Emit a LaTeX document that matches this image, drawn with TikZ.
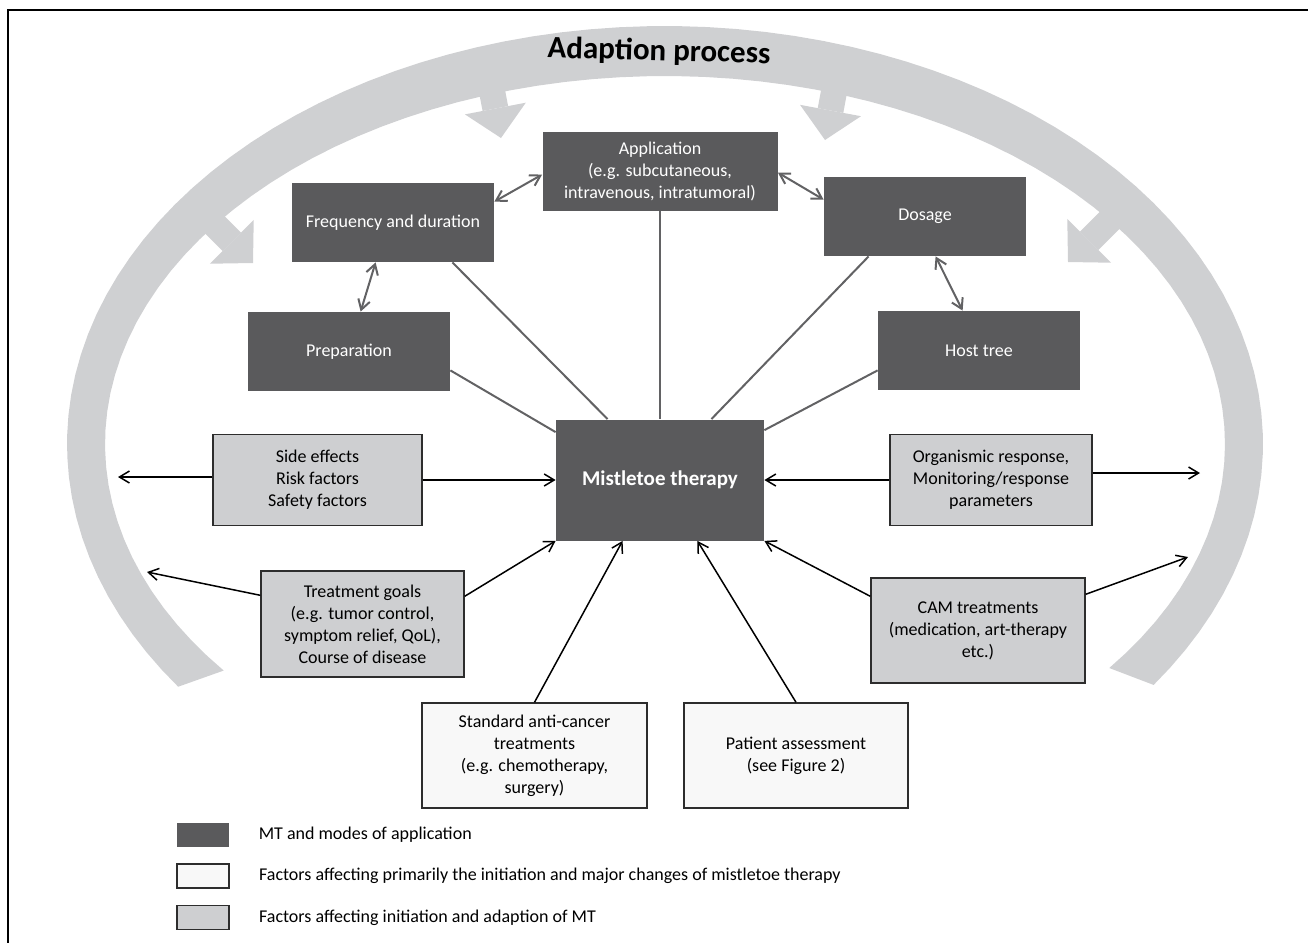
\documentclass[tikz,border=0pt]{standalone}
\usepackage{fontspec}
\setmainfont{Carlito}
\usepackage{tikz,xcolor}
\usetikzlibrary{calc,positioning,arrows.meta}
\definecolor{darkfill}{RGB}{90,90,92}
\definecolor{boxgray}{RGB}{206,207,209}
\definecolor{boxwhite}{RGB}{248,248,248}
\definecolor{bandgray}{RGB}{207,208,210}
\definecolor{linegray}{RGB}{98,98,100}
\definecolor{edgecol}{RGB}{45,45,45}
\newcommand{\diagfont}{\fontsize{9pt}{11pt}\selectfont}
\newcommand{\mtfont}{\fontsize{10.5pt}{12.5pt}\selectfont\bfseries}
\newcommand{\titlefont}{\fontsize{15.5pt}{18pt}\selectfont\bfseries}
\tikzset{
    darknode/.style={ % modes of application
        on grid,
        fill=darkfill,
        text=white,
        align=center,
        font=\diagfont,
        minimum width=101pt,
        minimum height=39.5pt
    },
    graynode/.style={ % initiation and adaption
        on grid,
        draw=edgecol,
        line width=0.7pt,
        fill=boxgray,
        align=center,
        font=\diagfont
    },
    whitenode/.style={ % initiation and major changes
        graynode,
        fill=boxwhite
    },
    keynode/.style={
        minimum width=26pt,
        minimum height=12pt,
        inner sep=0pt
    },
    keytext/.style={
        font=\diagfont,
        inner sep=0pt
    },
    greyline/.style={linegray, line width=1pt},
    pair/.style={greyline, <->},
    blackarrow/.style={black, line width=0.75pt, ->},
    bigarrow/.style={
        bandgray,
        line width=13pt,
        -{Triangle[length=15pt,width=31pt,line width=0pt]}
    }
}

\begin{document}
\begin{tikzpicture}[x=0.5pt,y=-0.5pt,>={Straight Barb[length=5pt,width=6pt]}]
        \useasboundingbox (0,0) rectangle (1308,943);
        \draw[line width=1pt] (8,943) -- (8,10) -- (1308,10);

        % adaption process band
        \fill[bandgray] plot[domain=144.5:395.2,samples=90] ({665+598*cos(\x)},{444+418*sin(\x)})
            -- plot[domain=397.5:142,samples=90] ({665+560*cos(\x)},{444+368*sin(\x)}) -- cycle;
        \draw[bigarrow] (487,65) -- (501,138);
        \draw[bigarrow] (839,65) -- (825,140);
        \draw[bigarrow] (193,203) -- (253,263);
        \draw[bigarrow] (1128,202) -- (1068,262);
        \node[font=\titlefont, rotate=-1.5] (title) at (659,52) {Adaption process};

        \node[darknode, minimum width=104pt, minimum height=60.5pt, font=\mtfont] (mt) at (660,480) {Mistletoe therapy};
        \node[darknode, minimum width=117.5pt, above = 154.25pt of mt] (app) {Application\\(e.g. subcutaneous,\\intravenous, intratumoral)};
        \node[darknode, above left = 128.75pt and 133.5pt of mt] (freq) {Frequency and duration};
        \node[darknode, above right = 131.75pt and 132.5pt of mt] (dos) {Dosage};
        \node[darknode, above left = 64.25pt and 155.5pt of mt] (prep) {Preparation};
        \node[darknode, above right = 64.75pt and 159.5pt of mt] (host) {Host tree};

        \node[graynode, minimum width=104.5pt, minimum height=45.5pt, left = 171.25pt of mt] (side) {Side effects\\Risk factors\\Safety factors};
        \node[graynode, minimum width=101pt, minimum height=45.5pt, right = 165.5pt of mt] (organ) {Organismic response,\\Monitoring/response\\parameters};
        \node[graynode, minimum width=101.5pt, minimum height=53pt, below left = 72pt and 148.75pt of mt] (goals) {Treatment goals\\(e.g. tumor control,\\symptom relief, QoL),\\Course of disease};
        \node[graynode, minimum width=107pt, minimum height=52.5pt, below right = 75.25pt and 159pt of mt] (cam) {CAM treatments\\(medication, art-therapy\\etc.)};
        \node[whitenode, minimum width=112.5pt, minimum height=52.5pt, below left = 137.75pt and 62.75pt of mt] (std) {Standard anti-cancer\\treatments\\(e.g. chemotherapy,\\surgery)};
        \node[whitenode, minimum width=112pt, minimum height=52.5pt, below right = 137.75pt and 68pt of mt] (patient) {Patient assessment\\(see Figure 2)};

        % modes of application
        \draw[greyline] (app.south) -- (app.south |- mt.north);
        \draw[greyline] ([xshift=-21pt]freq.south east) -- ([xshift=26pt]mt.north west);
        \draw[greyline] ([xshift=22.5pt]dos.south west) -- ([xshift=-26.5pt]mt.north east);
        \draw[greyline] ([yshift=10.5pt]prep.south east) -- ([yshift=-6.5pt]mt.north west);
        \draw[greyline] ([yshift=10pt]host.south west) -- ([yshift=-5.5pt]mt.north east);
        \draw[pair] ([yshift=-9.5pt]freq.north east) -- ([yshift=-21.5pt]app.north west);
        \draw[pair] ([yshift=-20.5pt]app.north east) -- ([yshift=-11.5pt]dos.north west);
        \draw[pair] ([xshift=42pt]freq.south west) -- ([xshift=56.5pt]prep.north west);
        \draw[pair] ([xshift=56pt]dos.south west) -- ([xshift=42.5pt]host.north west);

        % factors
        \coordinate (sideout) at (118,477);
        \coordinate (organout) at (1200,473);
        \coordinate (goalsout) at (147,572);
        \coordinate (camout) at (1188,557);
        \draw[blackarrow] (side.east) -- (side.east -| mt.west);
        \draw[blackarrow] (sideout -| side.west) -- (sideout);
        \draw[blackarrow] (organ.west) -- (organ.west -| mt.east);
        \draw[blackarrow] (organout -| organ.east) -- (organout);
        \draw[blackarrow] ([yshift=-13pt]goals.north east) -- (mt.south west);
        \draw[blackarrow] ([yshift=-12.5pt]goals.north west) -- (goalsout);
        \draw[blackarrow] ([yshift=-9.5pt]cam.north west) -- (mt.south east);
        \draw[blackarrow] ([yshift=-8.5pt]cam.north east) -- (camout);
        \draw[blackarrow] (std.north) -- ([xshift=33.5pt]mt.south west);
        \draw[blackarrow] (patient.north) -- ([xshift=-33.5pt]mt.south east);

        % legend
        \node[keynode, fill=darkfill] (keyA) at (203,834.5) {};
        \node[keynode, on grid, draw=edgecol, line width=0.7pt, fill=boxwhite, below = 20.75pt of keyA] (keyB) {};
        \node[keynode, on grid, draw=edgecol, line width=0.7pt, fill=boxgray, below = 20.75pt of keyB] (keyC) {};
        \node[keytext, right = 14.5pt of keyA] (txtA) {MT and modes of application};
        \node[keytext, right = 14.5pt of keyB] (txtB) {Factors affecting primarily the initiation and major changes of mistletoe therapy};
        \node[keytext, right = 14.5pt of keyC] (txtC) {Factors affecting initiation and adaption of MT};
    \end{tikzpicture}
\end{document}
